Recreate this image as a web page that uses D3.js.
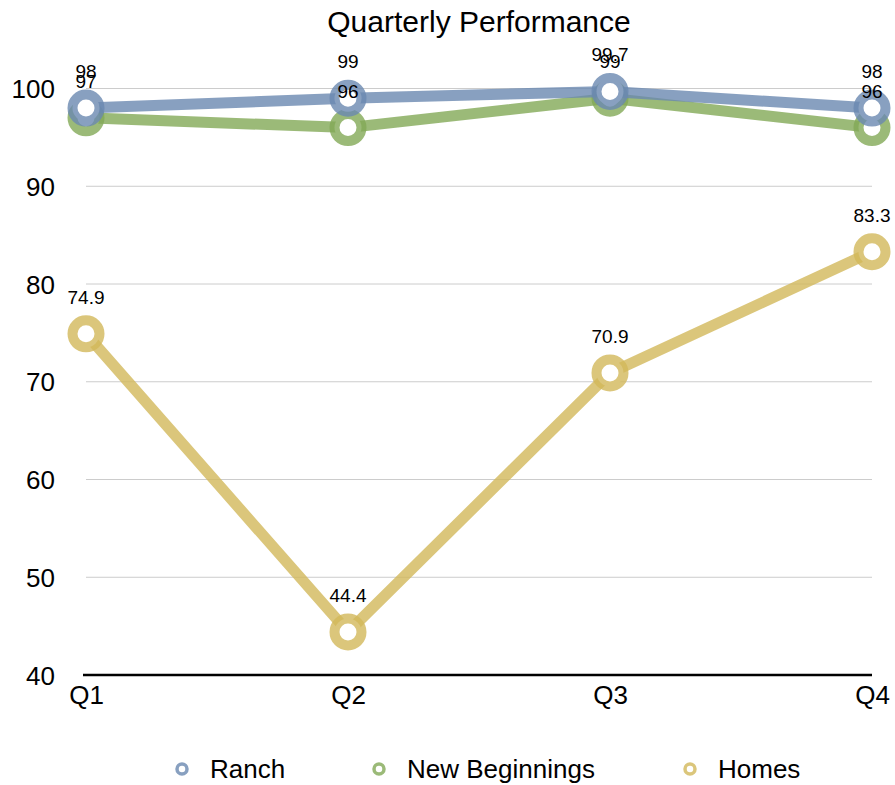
<!DOCTYPE html>
<html>
<head>
<meta charset="utf-8">
<script src="https://cdn.jsdelivr.net/npm/d3@7"></script>
<style>
  html, body { margin: 0; padding: 0; background: #fff; }
  svg { display: block; font-family: "Liberation Sans", Arial, Helvetica, sans-serif; }
</style>
</head>
<body>
<svg id="chart" width="895" height="785"></svg>
<script>
// Quarterly figures for each programme
const quarters = ["Q1", "Q2", "Q3", "Q4"];
const seriesNames = ["Ranch", "New Beginnings", "Homes"];
const ranch = [98, 99, 99.7, 98];
const newBeginnings = [97, 96, 99, 96];
const homes = [74.9, 44.4, 70.9, 83.3];
const yTicks = [40, 50, 60, 70, 80, 90, 100];
const colors = ["#6a88b0", "#82a956", "#d2b85a"];

const series = [ranch, newBeginnings, homes].map((values, i) => ({
  name: seriesNames[i],
  color: colors[i],
  values
}));

const svg = d3.select("#chart");
const margin = { left: 86, right: 23, top: 88.5, bottom: 110 };
const width = 895, height = 785;

const x = d3.scalePoint().domain(quarters).range([margin.left, width - margin.right]);
const y = d3.scaleLinear().domain([40, 100]).range([height - margin.bottom, margin.top]);

// Title
svg.append("text")
  .attr("x", 479)
  .attr("y", 32)
  .attr("text-anchor", "middle")
  .attr("font-size", 30)
  .attr("fill", "#000")
  .text("Quarterly Performance");

// Horizontal gridlines
svg.append("g")
  .selectAll("line")
  .data(yTicks.filter(t => t > 40))
  .join("line")
  .attr("x1", margin.left)
  .attr("x2", width - margin.right)
  .attr("y1", d => y(d))
  .attr("y2", d => y(d))
  .attr("stroke", "#cccccc")
  .attr("stroke-width", 1);

// Y axis labels
const yAxis = d3.axisLeft(y).tickValues(yTicks).tickSize(0).tickPadding(0);
const yg = svg.append("g").attr("transform", `translate(55,0)`).call(yAxis);
yg.select(".domain").remove();
yg.selectAll("text")
  .attr("font-size", 26)
  .attr("font-family", "Liberation Sans, Arial, sans-serif")
  .attr("fill", "#000")
  .attr("dy", "0.35em");

// X axis baseline
svg.append("line")
  .attr("x1", margin.left - 3)
  .attr("x2", width - margin.right)
  .attr("y1", y(40))
  .attr("y2", y(40))
  .attr("stroke", "#000")
  .attr("stroke-width", 2.5);

// X axis labels
const xAxis = d3.axisBottom(x).tickSize(0).tickPadding(0);
const xg = svg.append("g").attr("transform", `translate(0,${y(40) + 11})`).call(xAxis);
xg.select(".domain").remove();
xg.selectAll("text")
  .attr("font-size", 26)
  .attr("font-family", "Liberation Sans, Arial, sans-serif")
  .attr("fill", "#000")
  .attr("dy", "0.71em");

// Lines and ring markers; Ranch is drawn last so it sits on top
const line = d3.line().x((d, i) => x(quarters[i])).y(d => y(d));

const sg = svg.append("g")
  .selectAll("g")
  .data(series.slice().reverse())
  .join("g");

sg.append("path")
  .attr("d", d => line(d.values))
  .attr("fill", "none")
  .attr("stroke", d => d.color)
  .attr("stroke-width", 11)
  .attr("stroke-opacity", 0.8)
  .attr("stroke-linejoin", "round");

sg.selectAll("circle")
  .data(d => d.values.map((v, i) => ({ v, i, color: d.color })))
  .join("circle")
  .attr("cx", d => x(quarters[d.i]))
  .attr("cy", d => y(d.v))
  .attr("r", 13.5)
  .attr("fill", "#fff")
  .attr("stroke", d => d.color)
  .attr("stroke-width", 10)
  .attr("stroke-opacity", 0.8);

// Value labels, above every line and marker
const labelData = series.flatMap(s => s.values.map((v, i) => ({ v, i })));
svg.append("g")
  .selectAll("text")
  .data(labelData)
  .join("text")
  .attr("x", d => x(quarters[d.i]))
  .attr("y", d => y(d.v) - 30)
  .attr("text-anchor", "middle")
  .attr("font-size", 19)
  .attr("fill", "#000")
  .text(d => d.v);

// Legend
const legendX = [182, 379, 690];
const lg = svg.append("g")
  .selectAll("g")
  .data(series)
  .join("g")
  .attr("transform", (d, i) => `translate(${legendX[i]},769)`);

lg.append("circle")
  .attr("r", 5)
  .attr("fill", "#fff")
  .attr("stroke", d => d.color)
  .attr("stroke-width", 3.5)
  .attr("stroke-opacity", 0.8);

lg.append("text")
  .attr("x", 28)
  .attr("dy", "0.35em")
  .attr("font-size", 26)
  .attr("fill", "#000")
  .text(d => d.name);
</script>
</body>
</html>
